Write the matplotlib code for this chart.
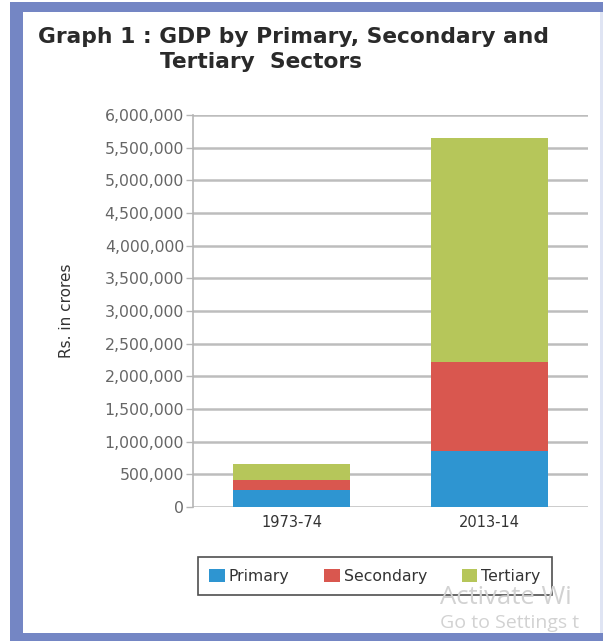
import matplotlib

matplotlib.use("Agg")
import matplotlib.pyplot as plt
from matplotlib.patches import Rectangle
from matplotlib.ticker import FuncFormatter
import numpy as np

plt.rcParams["font.family"] = "DejaVu Sans"

years = ["1973-74", "2013-14"]
primary = [258000, 860000]
secondary = [150000, 1355000]
tertiary = [247000, 3430000]
sectors = ["Primary", "Secondary", "Tertiary"]
colors = ["#2e95d1", "#d9574f", "#b6c65a"]

W, H = 603, 641
fig = plt.figure(figsize=(W / 100, H / 100), dpi=100)


def fx(x):
    return x / W


def fy(y):
    return 1 - y / H


# blue frame round the panel
fig.patches.append(Rectangle((fx(10), fy(641)), fx(593), 639 / H, transform=fig.transFigure,
                             facecolor="#7486c4", edgecolor="none", zorder=-10))
fig.patches.append(Rectangle((fx(23), fy(633)), fx(577), 621 / H, transform=fig.transFigure,
                             facecolor="white", edgecolor="none", zorder=-9))
fig.patches.append(Rectangle((fx(600), fy(633)), fx(3), 621 / H, transform=fig.transFigure,
                             facecolor="#dfe4f3", edgecolor="none", zorder=-9))

ax = fig.add_axes([fx(193), fy(507), fx(395), (507 - 115) / H])
ax.set_facecolor("none")
ax.set_zorder(2)

x = np.arange(len(years))
bottom = np.zeros(len(years))
for name, vals, c in zip(sectors, [primary, secondary, tertiary], colors):
    ax.bar(x, vals, width=0.59, bottom=bottom, color=c, label=name, zorder=3)
    bottom += np.array(vals)

ax.set_xlim(-0.5, 1.5)
ax.set_ylim(0, 6000000)
ax.set_yticks(np.arange(0, 6000001, 500000))
ax.yaxis.set_major_formatter(FuncFormatter(lambda v, p: f"{int(v):,}"))
ax.set_xticks(x)
ax.set_xticklabels(years, fontsize=10.5, color="#333333")
ax.tick_params(axis="x", length=0, pad=6)
ax.tick_params(axis="y", length=5, width=1, color="#b5b5b5", labelsize=11.3,
               labelcolor="#666666", pad=1.5)
ax.grid(axis="y", color="#bdbdbd", linewidth=1.8, zorder=1)
for s in ["top", "right", "bottom"]:
    ax.spines[s].set_visible(False)
ax.spines["left"].set_color("#b5b5b5")
ax.spines["left"].set_linewidth(1.2)
ax.set_ylabel("Rs. in crores", fontsize=11, color="#333333", labelpad=22)

fig.text(fx(38), fy(43), "Graph 1 : GDP by Primary, Secondary and", fontsize=15.7,
         fontweight="bold", color="#2a2a2a", va="baseline")
fig.text(fx(160), fy(68), "Tertiary  Sectors", fontsize=15.7,
         fontweight="bold", color="#2a2a2a", va="baseline")

leg = fig.legend(loc="center", bbox_to_anchor=(fx(375), fy(576)), ncol=3, fontsize=11.3,
                 frameon=True, fancybox=False, edgecolor="#222222", handlelength=1.0,
                 handleheight=0.9, handletextpad=0.25, columnspacing=2.2,
                 borderpad=0.75, borderaxespad=0)
leg.get_frame().set_linewidth(1.2)
leg.set_zorder(3)
for t in leg.get_texts():
    t.set_color("#333333")

# screen watermark
fig.text(fx(440), fy(604), "Activate Wi", fontsize=18.5, color="#d2d2d2",
         family="Open Sans", va="baseline", zorder=4)
fig.text(fx(440), fy(628), "Go to Settings t", fontsize=14,
         color="#d2d2d2", family="Open Sans", va="baseline", zorder=4)

fig.savefig("out.png", dpi=100)
